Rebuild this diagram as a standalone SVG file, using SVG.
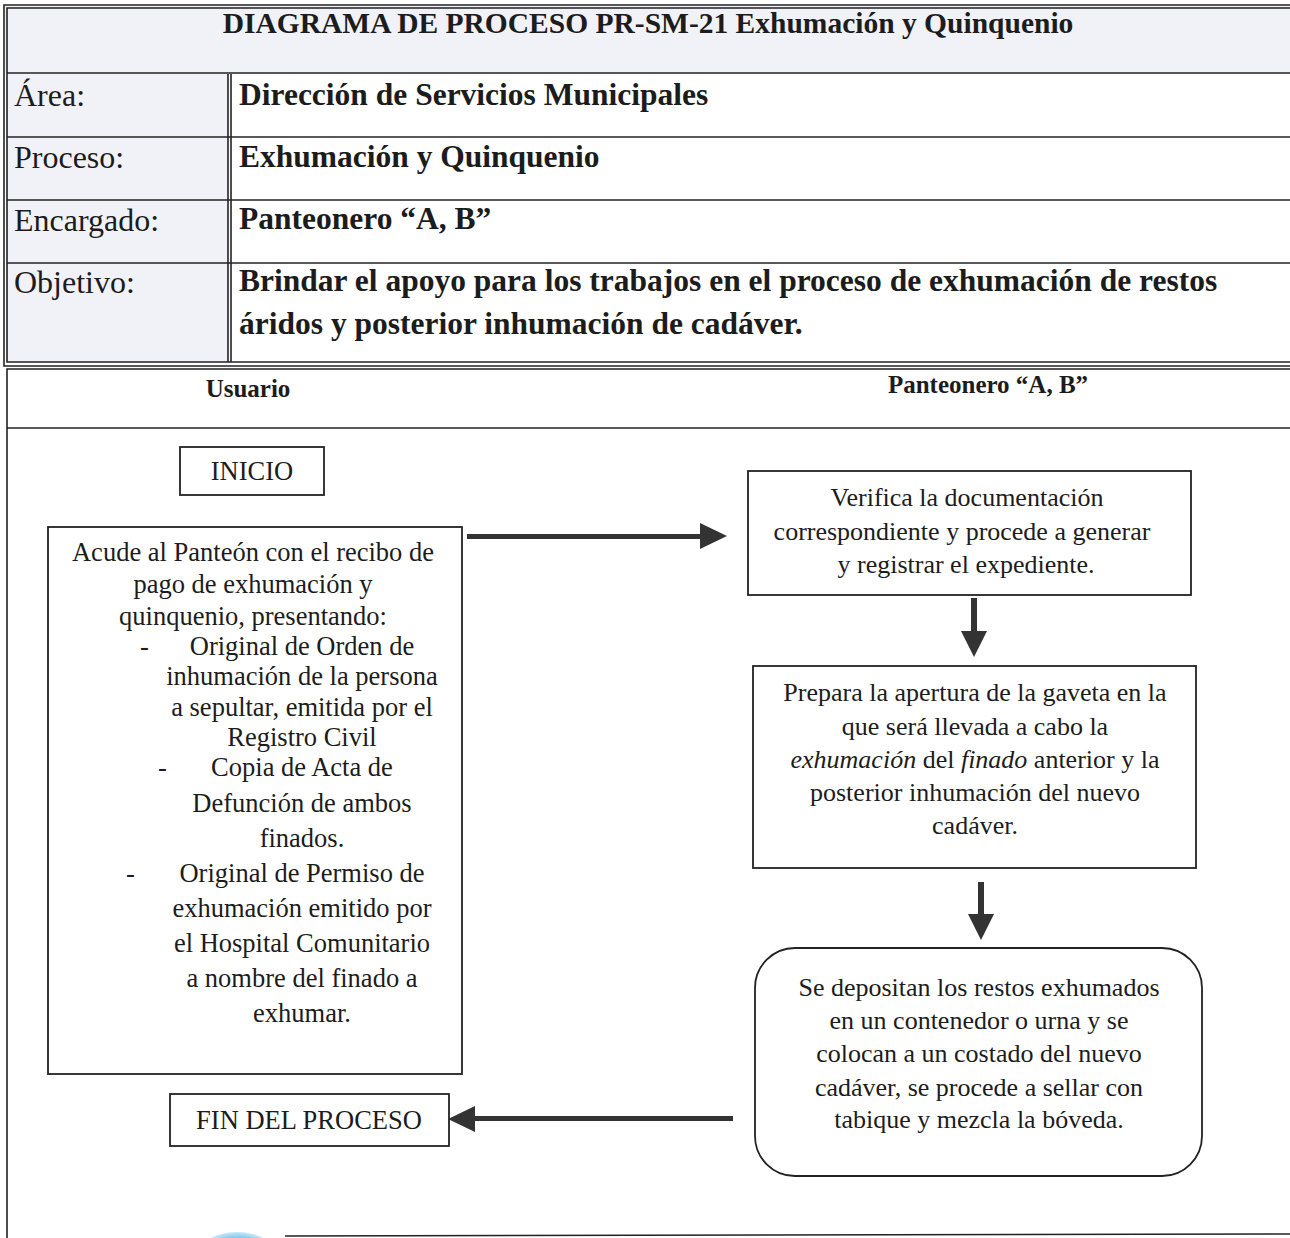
<svg xmlns="http://www.w3.org/2000/svg" width="1290" height="1238" viewBox="0 0 1290 1238">
  <style>
    .ln { stroke: #222; stroke-width: 1.6; fill: none; }
    .box { stroke: #222; stroke-width: 1.8; fill: #fff; }
    .t { font-family: "Liberation Serif", "Times New Roman", serif; fill: #1c1c1c; }
    .lbl { font-size: 32px; }
    .val { font-size: 31.5px; font-weight: bold; }
    .ttl { font-size: 29.5px; font-weight: bold; }
    .hd { font-size: 25px; font-weight: bold; }
    .bd { font-size: 26.5px; }
    .bd2 { font-size: 26px; }
    .mid { text-anchor: middle; }
    .arrow { fill: #333; }
  </style>
  <defs>
    <radialGradient id="blueSpot" cx="0.5" cy="0.5" r="0.5">
      <stop offset="0" stop-color="#2f9fdc"/>
      <stop offset="0.75" stop-color="#6cc0ec"/>
      <stop offset="1" stop-color="#c8e8f8"/>
    </radialGradient>
  </defs>

  <rect width="1290" height="1238" fill="#fff"/>

  <!-- header table -->
  <g id="header-table">
    <rect x="5" y="6" width="1290" height="68" fill="#f1f1f8"/>
    <rect x="6" y="74" width="222" height="288" fill="#f1f1f8"/>
    <!-- double outer border -->
    <path class="ln" d="M1295 5 H4 V366 H1295"/>
    <path class="ln" d="M1295 8 H7 V362 H1295"/>
    <!-- row lines -->
    <line class="ln" x1="7" y1="73" x2="1295" y2="73" stroke-width="2.6"/>
    <line class="ln" x1="7" y1="137" x2="1295" y2="137"/>
    <line class="ln" x1="7" y1="200" x2="1295" y2="200"/>
    <line class="ln" x1="7" y1="263" x2="1295" y2="263"/>
    <!-- column divider -->
    <line class="ln" x1="228" y1="74" x2="228" y2="362"/>
    <line class="ln" x1="231" y1="74" x2="231" y2="362"/>

    <text class="t ttl mid" x="648" y="33">DIAGRAMA DE PROCESO PR-SM-21 Exhumación y Quinquenio</text>
    <text class="t lbl" x="14" y="106">Área:</text>
    <text class="t val" x="239" y="105">Dirección de Servicios Municipales</text>
    <text class="t lbl" x="14" y="168">Proceso:</text>
    <text class="t val" x="239" y="167">Exhumación y Quinquenio</text>
    <text class="t lbl" x="14" y="231">Encargado:</text>
    <text class="t val" x="239" y="229">Panteonero “A, B”</text>
    <text class="t lbl" x="14" y="293">Objetivo:</text>
    <text class="t val" x="239" y="291">Brindar el apoyo para los trabajos en el proceso de exhumación de restos</text>
    <text class="t val" x="239" y="334">áridos y posterior inhumación de cadáver.</text>
  </g>

  <!-- swimlane frame -->
  <g id="lanes">
    <path class="ln" d="M1295 369 H7 V1240"/>
    <line class="ln" x1="7" y1="428" x2="1295" y2="428"/>
    <line class="ln" x1="285" y1="1236" x2="1295" y2="1234"/>
    <text class="t hd mid" x="248" y="397">Usuario</text>
    <text class="t hd mid" x="988" y="393">Panteonero “A, B”</text>
  </g>

  <!-- connectors -->
  <g id="connectors">
    <rect class="arrow" x="467" y="534" width="235" height="5"/>
    <polygon class="arrow" points="700,523 727,536 700,549"/>
    <rect class="arrow" x="971" y="598" width="6" height="35"/>
    <polygon class="arrow" points="961,631 987,631 974,657"/>
    <rect class="arrow" x="978" y="882" width="6" height="34"/>
    <polygon class="arrow" points="968,914 994,914 981,940"/>
    <rect class="arrow" x="473" y="1116" width="260" height="5"/>
    <polygon class="arrow" points="475,1106 448,1119 475,1132"/>
  </g>

  <g id="inicio">
    <rect class="box" x="180" y="447" width="144" height="48"/>
    <text class="t bd mid" x="252" y="480">INICIO</text>
  </g>

  <g id="acude">
    <rect class="box" x="48" y="527" width="414" height="547"/>
    <text class="t bd mid" x="253" y="561">Acude al Panteón con el recibo de</text>
    <text class="t bd mid" x="253" y="593">pago de exhumación y</text>
    <text class="t bd mid" x="253" y="625">quinquenio, presentando:</text>
    <text class="t bd" x="140" y="655">-</text>
    <text class="t bd mid" x="302" y="655">Original de Orden de</text>
    <text class="t bd mid" x="302" y="685">inhumación de la persona</text>
    <text class="t bd mid" x="302" y="716">a sepultar, emitida por el</text>
    <text class="t bd mid" x="302" y="746">Registro Civil</text>
    <text class="t bd" x="158" y="776">-</text>
    <text class="t bd mid" x="302" y="776">Copia de Acta de</text>
    <text class="t bd mid" x="302" y="812">Defunción de ambos</text>
    <text class="t bd mid" x="302" y="847">finados.</text>
    <text class="t bd" x="126" y="882">-</text>
    <text class="t bd mid" x="302" y="882">Original de Permiso de</text>
    <text class="t bd mid" x="302" y="917">exhumación emitido por</text>
    <text class="t bd mid" x="302" y="952">el Hospital Comunitario</text>
    <text class="t bd mid" x="302" y="987">a nombre del finado a</text>
    <text class="t bd mid" x="302" y="1022">exhumar.</text>
  </g>

  <g id="verifica">
    <rect class="box" x="748" y="471" width="443" height="124"/>
    <text class="t bd2 mid" x="967" y="506">Verifica la documentación</text>
    <text class="t bd2 mid" x="962" y="540">correspondiente y procede a generar</text>
    <text class="t bd2 mid" x="966" y="573">y registrar el expediente.</text>
  </g>

  <g id="prepara">
    <rect class="box" x="753" y="666" width="443" height="202"/>
    <text class="t bd2 mid" x="975" y="701">Prepara la apertura de la gaveta en la</text>
    <text class="t bd2 mid" x="975" y="735">que será llevada a cabo la</text>
    <text class="t bd2 mid" x="975" y="768"><tspan font-style="italic">exhumación</tspan> del <tspan font-style="italic">finado</tspan> anterior y la</text>
    <text class="t bd2 mid" x="975" y="801">posterior inhumación del nuevo</text>
    <text class="t bd2 mid" x="975" y="834">cadáver.</text>
  </g>

  <g id="depositan">
    <rect class="box" x="755" y="948" width="447" height="228" rx="40" ry="40"/>
    <text class="t bd2 mid" x="979" y="996">Se depositan los restos exhumados</text>
    <text class="t bd2 mid" x="979" y="1029">en un contenedor o urna y se</text>
    <text class="t bd2 mid" x="979" y="1062">colocan a un costado del nuevo</text>
    <text class="t bd2 mid" x="979" y="1096">cadáver, se procede a sellar con</text>
    <text class="t bd2 mid" x="979" y="1128">tabique y mezcla la bóveda.</text>
  </g>

  <g id="fin">
    <rect class="box" x="170" y="1094" width="279" height="52"/>
    <text class="t bd mid" x="309" y="1129">FIN DEL PROCESO</text>
  </g>

  <!-- edge of a seal at the foot of the page -->
  <ellipse cx="237" cy="1262" rx="44" ry="30" fill="url(#blueSpot)"/>
</svg>
